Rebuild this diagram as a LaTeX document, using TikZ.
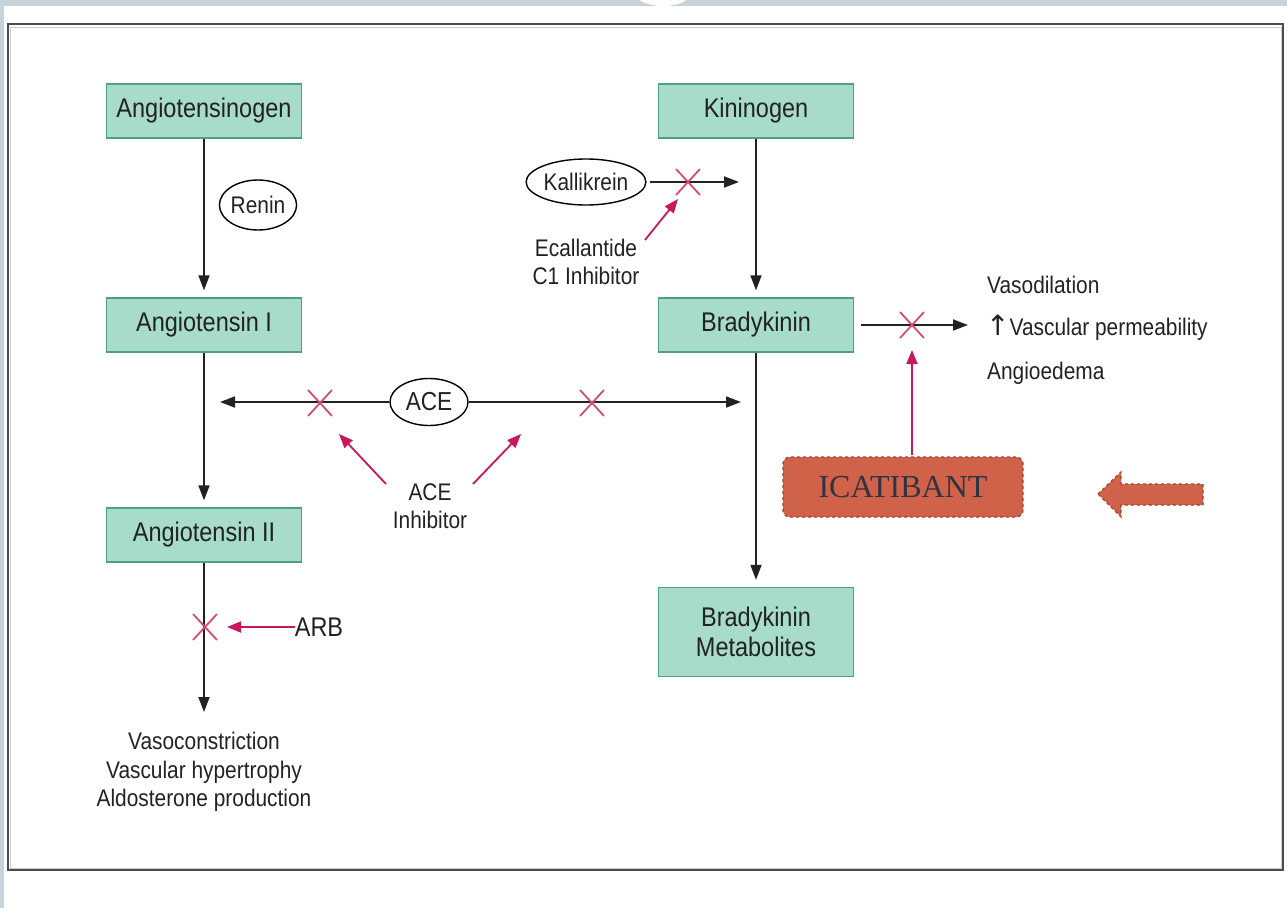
\documentclass[tikz,border=0pt]{standalone}
\usepackage{fontspec}
\setmainfont{Liberation Sans}[FakeStretch=0.87]
\newfontfamily\serifx{Liberation Serif}
\newfontfamily\dejavu{DejaVu Sans}
\usetikzlibrary{arrows.meta,shapes.geometric,shapes.misc}
\definecolor{boxfill}{HTML}{A6DCC8}
\definecolor{boxline}{HTML}{4E9E88}
\definecolor{inhcol}{HTML}{C8175A}
\definecolor{xcol}{HTML}{D84A74}
\definecolor{icfill}{HTML}{D0624A}
\definecolor{icline}{HTML}{A04434}
\definecolor{ictext}{HTML}{2F3441}
\definecolor{band}{HTML}{C8D2DA}
\definecolor{txt}{HTML}{222222}
\tikzset{
  boxn/.style={draw=boxline, line width=1.4pt, fill=boxfill, minimum width=195pt, minimum height=54pt, inner sep=0pt, align=center, text=txt, font=\fontsize{27}{30}\selectfont},
  oval/.style={draw=black, line width=1.4pt, fill=white, ellipse, inner sep=0pt, text=txt, font=\fontsize{24}{28}\selectfont},
  lbl/.style={text=txt, align=center, inner sep=0pt, font=\fontsize{24}{28.5}\selectfont},
  blk/.style={draw=txt, line width=1.8pt, -{Triangle[length=15pt,width=11pt]}},
  inh/.style={draw=inhcol, line width=1.8pt, -{Triangle[length=14pt,width=11pt]}},
  xm/.style={draw=xcol, line width=1.8pt, cross out, minimum width=22pt, minimum height=24pt, inner sep=0pt},
}
\begin{document}
\begin{tikzpicture}[x=1pt,y=-1pt]
\useasboundingbox (0,0) rectangle (1287,908);
% background decorations
\fill[white] (0,0) rectangle (1287,908);
\fill[band] (0,0) rectangle (1287,6);
\fill[band] (0,0) rectangle (4,908);
\fill[white] (663,-6) ellipse [x radius=27pt, y radius=12pt];
\draw[gray!40, line width=1pt] (10,27) rectangle (1281,868);
\draw[black!70, line width=2pt] (8,24) rectangle (1283,870);

% boxes
\node[boxn] (agen) at (204,111) {Angiotensinogen};
\node[boxn] (a1) at (204,325) {Angiotensin I};
\node[boxn] (a2) at (204,535) {Angiotensin II};
\node[boxn] (kin) at (756,111) {Kininogen};
\node[boxn] (bk) at (756,325) {Bradykinin};
\node[boxn, minimum height=89pt] (bkm) at (756,632) {Bradykinin\\Metabolites};

% ovals
\node[oval, minimum width=76pt, minimum height=50pt] (renin) at (258,205) {Renin};
\node[oval, minimum width=118pt, minimum height=46pt] (kal) at (586,182) {Kallikrein};
\node[oval, minimum width=78pt, minimum height=47pt, font=\fontsize{26}{30}\selectfont] (ace) at (429,402) {ACE};

% vertical pathways
\draw[blk, shorten >=7pt] (agen) -- (a1);
\draw[blk, shorten >=7pt] (a1) -- (a2);
\coordinate (a2end) at (204,712);
\draw[blk] (a2) -- (a2end);
\node[lbl] (a2eff) at (204,772) {Vasoconstriction\\Vascular hypertrophy\\Aldosterone production};
\draw[blk, shorten >=7pt] (kin) -- (bk);
\draw[blk, shorten >=7pt] (bk) -- (bkm);

% ACE horizontal
\coordinate (aceL) at (220,402);
\coordinate (aceR) at (741,402);
\draw[blk] (ace.west) -- (aceL);
\draw[blk] (ace.east) -- (aceR);
\node[xm] (x1) at (320,403) {};
\node[xm] (x2) at (592,403) {};
\node[lbl] (acei) at (430,506) {ACE\\Inhibitor};
\coordinate (ai1s) at (386,484);
\coordinate (ai1e) at (339,434);
\coordinate (ai2s) at (473,484);
\coordinate (ai2e) at (521,434);
\draw[inh] (ai1s) -- (ai1e);
\draw[inh] (ai2s) -- (ai2e);

% ARB
\node[xm] (x3) at (205,627) {};
\node[lbl, font=\fontsize{27}{30}\selectfont] (arb) at (319,627) {ARB};
\coordinate (arbE) at (227,627);
\draw[inh] (arb.west) -- (arbE);

% Kallikrein
\coordinate (kalE) at (739,182);
\draw[blk, shorten <=3pt] (kal.east) -- (kalE);
\node[xm] (x4) at (688,182) {};
\node[lbl] (eca) at (586,262) {Ecallantide\\C1 Inhibitor};
\coordinate (ecaS) at (645,240);
\coordinate (ecaE) at (678,199);
\draw[inh] (ecaS) -- (ecaE);

% Bradykinin effects
\coordinate (effE) at (968,325);
\draw[blk, shorten <=7pt] (bk.east) -- (effE);
\node[xm] (x5) at (912,325) {};
\node[lbl, anchor=west] (vd) at (987,285) {Vasodilation};
\node[lbl, anchor=west] (vp) at (986,328) {{\dejavu\fontsize{28}{30}\selectfont ↑}Vascular permeability};
\node[lbl, anchor=west] (ae) at (987,373) {Angioedema};

% ICATIBANT
\node[draw=icline, fill=icfill, dashed, line width=1.4pt, rounded corners=7pt, minimum width=240pt, minimum height=60pt, inner sep=0pt, text=ictext, font=\serifx\fontsize{32}{36}\selectfont] (icat) at (903,487) {ICATIBANT};
\coordinate (icS) at (912,455);
\coordinate (icE) at (912,350);
\draw[inh] (icS) -- (icE);
\filldraw[fill=icfill, draw=icline, dashed, line width=1.4pt] (1098,494) -- (1121,472) -- (1121,484) -- (1203,484) -- (1203,505) -- (1121,505) -- (1121,517) -- cycle;
\end{tikzpicture}
\end{document}
